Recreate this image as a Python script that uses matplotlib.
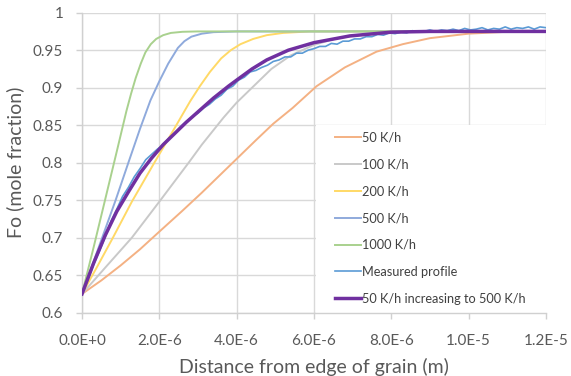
import matplotlib
matplotlib.use('Agg')
import matplotlib.pyplot as plt
from matplotlib.patches import Rectangle

# distance from grain edge in micrometres, Fo in mole fraction
x_50 = [0.0, 0.5, 1.0, 1.5, 2.0, 2.6, 3.1, 3.5, 3.9, 4.5, 4.95, 5.45, 6.07, 6.8, 7.62, 8.3, 9.0, 10.0, 11.0, 12.0]
fo_50 = [0.625, 0.643, 0.663, 0.6845, 0.708, 0.736, 0.760, 0.780, 0.800, 0.830, 0.852, 0.873, 0.902, 0.927, 0.948, 0.958, 0.966, 0.972, 0.9745, 0.975]

x_100 = [0.0, 0.6, 1.29, 2.03, 2.76, 3.1, 3.66, 4.0, 4.4, 4.9, 5.4, 6.0, 6.6, 7.3, 8.2, 9.2, 12.0]
fo_100 = [0.625, 0.660, 0.700, 0.750, 0.800, 0.824, 0.860, 0.880, 0.900, 0.925, 0.943, 0.957, 0.966, 0.971, 0.974, 0.975, 0.975]

x_200 = [0.0, 0.4, 0.8, 1.29, 1.85, 2.35, 2.8, 3.05, 3.31, 3.6, 3.85, 4.1, 4.43, 4.78, 5.2, 5.9, 12.0]
fo_200 = [0.625, 0.662, 0.700, 0.748, 0.798, 0.842, 0.882, 0.902, 0.921, 0.939, 0.950, 0.958, 0.965, 0.970, 0.973, 0.975, 0.975]

x_500 = [0.0, 0.87, 1.2, 1.5, 1.77, 2.0, 2.23, 2.48, 2.65, 2.83, 3.1, 3.4, 4.0, 12.0]
fo_500 = [0.625, 0.750, 0.800, 0.845, 0.883, 0.9085, 0.932, 0.953, 0.962, 0.968, 0.972, 0.974, 0.975, 0.975]

x_1000 = [0.0, 0.3, 0.6, 0.9, 1.15, 1.27, 1.39, 1.52, 1.64, 1.78, 1.92, 2.1, 2.3, 2.6, 3.0, 12.0]
fo_1000 = [0.625, 0.687, 0.751, 0.815, 0.869, 0.892, 0.913, 0.932, 0.947, 0.958, 0.965, 0.970, 0.973, 0.9745, 0.975, 0.975]

x_meas = [0.0, 0.15, 0.3, 0.45, 0.6, 0.75, 0.9, 1.05, 1.2, 1.35, 1.5, 1.65, 1.8, 1.95,
          2.1, 2.25, 2.4, 2.55, 2.7, 2.85, 3.0, 3.15, 3.3, 3.45, 3.6, 3.75, 3.9, 4.05,
          4.2, 4.35, 4.5, 4.65, 4.8, 4.95, 5.1, 5.25, 5.4, 5.55, 5.7, 5.85, 6.0, 6.15,
          6.3, 6.45, 6.6, 6.75, 6.9, 7.05, 7.2, 7.35, 7.5, 7.65, 7.8, 7.95, 8.1, 8.25,
          8.4, 8.55, 8.7, 8.85, 9.0, 9.15, 9.3, 9.45, 9.6, 9.75, 9.9, 10.05, 10.2, 10.35,
          10.5, 10.65, 10.8, 10.95, 11.1, 11.25, 11.4, 11.55, 11.7, 11.85, 12.0]
fo_meas = [0.625, 0.644, 0.664, 0.682, 0.701, 0.722, 0.738, 0.755, 0.767, 0.781, 0.792, 0.804, 0.811, 0.818,
           0.824, 0.833, 0.839, 0.848, 0.855, 0.861, 0.866, 0.873, 0.878, 0.885, 0.890, 0.898, 0.902, 0.910,
           0.914, 0.921, 0.923, 0.927, 0.930, 0.935, 0.937, 0.941, 0.941, 0.946, 0.946, 0.950, 0.952, 0.955,
           0.955, 0.959, 0.958, 0.962, 0.962, 0.965, 0.965, 0.968, 0.968, 0.971, 0.970, 0.973, 0.972, 0.974,
           0.973, 0.976, 0.974, 0.975, 0.977, 0.975, 0.977, 0.976, 0.978, 0.976, 0.979, 0.977, 0.978, 0.980,
           0.977, 0.979, 0.978, 0.981, 0.978, 0.980, 0.979, 0.981, 0.978, 0.981, 0.980]

x_ramp = [0.0, 0.3, 0.6, 0.9, 1.2, 1.5, 1.8, 2.1, 2.4, 2.7, 3.05, 3.4, 3.79, 4.0, 4.4, 4.78, 5.34, 6.0, 6.93, 8.0, 9.0, 12.0]
fo_ramp = [0.625, 0.666, 0.703, 0.735, 0.761, 0.786, 0.806, 0.824, 0.839, 0.854, 0.870, 0.886, 0.902, 0.910, 0.925, 0.937, 0.950, 0.960, 0.969, 0.974, 0.975, 0.975]

x_ticks = [0, 2, 4, 6, 8, 10, 12]
x_ticklabels = ['0.0E+0', '2.0E-6', '4.0E-6', '6.0E-6', '8.0E-6', '1.0E-5', '1.2E-5']
y_ticks = [0.6, 0.65, 0.7, 0.75, 0.8, 0.85, 0.9, 0.95, 1.0]
y_ticklabels = ['0.6', '0.65', '0.7', '0.75', '0.8', '0.85', '0.9', '0.95', '1']

plt.rcParams['font.family'] = ['Lato', 'DejaVu Sans']

fig = plt.figure(figsize=(5.71, 3.76), dpi=100)
ax = fig.add_axes([0.1436, 0.1684, 0.8123, 0.7979])

series = [
    (x_50, fo_50, '#F4B183', 1.4, '50 K/h'),
    (x_100, fo_100, '#C9C9C9', 1.4, '100 K/h'),
    (x_200, fo_200, '#FFD966', 1.4, '200 K/h'),
    (x_500, fo_500, '#8FAADC', 1.4, '500 K/h'),
    (x_1000, fo_1000, '#A9D18E', 1.4, '1000 K/h'),
    (x_meas, fo_meas, '#5B9BD5', 1.2, 'Measured profile'),
    (x_ramp, fo_ramp, '#7030A0', 2.5, '50 K/h increasing to 500 K/h'),
]
for xs, ys, col, lw, lab in series:
    ax.plot(xs, ys, color=col, lw=lw, label=lab, zorder=3, solid_joinstyle='round')

ax.set_xlim(0, 12)
ax.set_ylim(0.6, 1.0)
ax.set_xticks(x_ticks)
ax.set_xticklabels(x_ticklabels)
ax.set_yticks(y_ticks)
ax.set_yticklabels(y_ticklabels)

ax.grid(True, color='#D9D9D9', lw=1.0, zorder=0)
ax.set_axisbelow(True)
for s in ['top', 'right']:
    ax.spines[s].set_visible(False)
for s in ['left', 'bottom']:
    ax.spines[s].set_color('#D0D0D0')
    ax.spines[s].set_linewidth(1.0)
ax.tick_params(axis='both', direction='out', length=4, width=1.0, color='#D0D0D0',
               labelcolor='#595959', labelsize=11)
ax.tick_params(axis='y', pad=9.5)
ax.tick_params(axis='x', pad=11)

ax.set_xlabel('Distance from edge of grain (m)', fontsize=14, color='#595959')
ax.set_ylabel('Fo (mole fraction)', fontsize=14, color='#595959')
ax.xaxis.set_label_coords(0.5, -0.152)
ax.yaxis.set_label_coords(-0.124, 0.5)

# white box behind the legend, hides the grid like the original
ax.add_patch(Rectangle((0.5045, 0.0), 0.4955, 0.625, transform=ax.transAxes,
                       facecolor='white', edgecolor='none', zorder=1.5))

leg = ax.legend(loc='upper left', bbox_to_anchor=(0.5455, 0.605), frameon=False,
                fontsize=9.2, handlelength=2.0, handletextpad=0.12, labelspacing=1.17,
                borderpad=0, borderaxespad=0)
for t in leg.get_texts():
    t.set_color('#404040')

fig.savefig('out.png', dpi=100)
